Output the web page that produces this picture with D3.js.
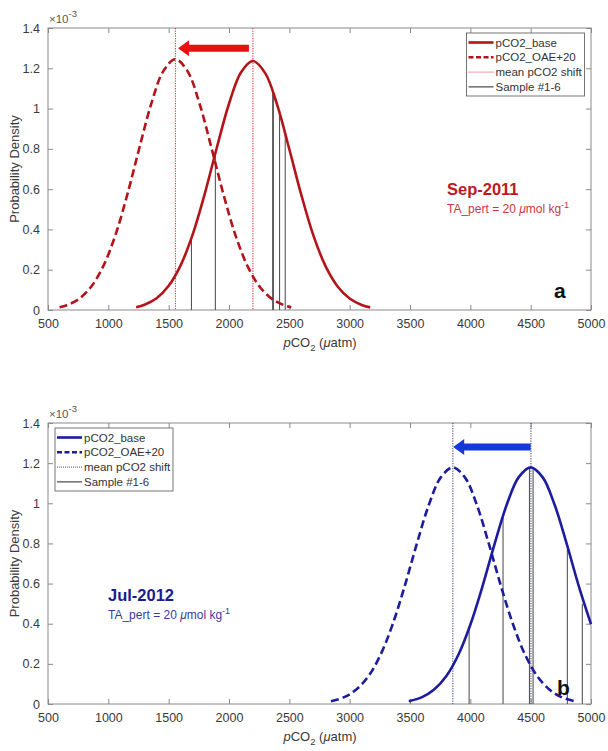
<!DOCTYPE html>
<html>
<head>
<meta charset="utf-8">
<script src="https://cdn.jsdelivr.net/npm/d3@7"></script>
<style>
  body { margin: 0; background: #fff; }
  svg { font-family: "Liberation Sans", Arial, sans-serif; }
</style>
</head>
<body>
<script>
// ---- data (density values in units of 1e-3) ----
var xTicks = [500, 1000, 1500, 2000, 2500, 3000, 3500, 4000, 4500, 5000];
var yTicks = [0, 0.2, 0.4, 0.6, 0.8, 1, 1.2, 1.4];

// panel a : Sep-2011
var sepBaseX = [1230, 1300, 1400, 1500, 1600, 1700, 1800, 1900, 2000, 2100, 2198, 2300, 2400, 2500, 2600, 2700, 2800, 2900, 3000, 3100, 3170];
var sepBaseY = [0.014, 0.026, 0.058, 0.120, 0.223, 0.377, 0.579, 0.808, 1.024, 1.180, 1.236, 1.176, 1.017, 0.798, 0.570, 0.369, 0.218, 0.117, 0.057, 0.025, 0.013];
var sepOaeX = [596, 656, 756, 856, 956, 1056, 1156, 1256, 1356, 1456, 1556, 1656, 1756, 1856, 1956, 2056, 2156, 2256, 2356, 2456, 2516];
var sepOaeY = [0.014, 0.024, 0.055, 0.114, 0.215, 0.367, 0.570, 0.802, 1.024, 1.186, 1.245, 1.186, 1.024, 0.802, 0.570, 0.367, 0.215, 0.114, 0.055, 0.024, 0.014];
var sepMeans = [1556, 2198];
var sepSampleX = [1689, 1887, 2362, 2368, 2419, 2466];
var sepSampleY = [0.35, 0.77, 1.08, 1.07, 0.98, 0.88];
var sepArrow = [2165, 1578, 1.30];   // tail x, tip x, level

// panel b : Jul-2012
var julBaseX = [3490, 3600, 3700, 3800, 3900, 4000, 4100, 4200, 4300, 4400, 4500, 4600, 4700, 4800, 4900, 5000];
var julBaseY = [0.014, 0.034, 0.072, 0.138, 0.244, 0.395, 0.585, 0.795, 0.990, 1.129, 1.179, 1.129, 0.990, 0.795, 0.585, 0.398];
var julOaeX = [2845, 2955, 3055, 3155, 3255, 3355, 3455, 3555, 3655, 3755, 3855, 3955, 4055, 4155, 4255, 4355, 4455, 4555, 4655, 4755, 4865];
var julOaeY = [0.014, 0.034, 0.072, 0.138, 0.244, 0.395, 0.585, 0.795, 0.990, 1.129, 1.179, 1.129, 0.990, 0.795, 0.585, 0.395, 0.244, 0.138, 0.072, 0.034, 0.014];
var julMeans = [3855, 4502];
var julSampleX = [3990, 4271, 4490, 4520, 4804, 4928];
var julSampleY = [0.37, 0.93, 1.18, 1.17, 0.77, 0.50];
var julArrow = [4500, 3858, 1.28];

var legendLabels = ["pCO2_base", "pCO2_OAE+20", "mean pCO2 shift", "Sample #1-6"];

var W = 608, H = 751;
var svg = d3.select("body").append("svg").attr("width", W).attr("height", H);
svg.append("rect").attr("width", W).attr("height", H).attr("fill", "#fff");

function zip(xs, ys){ return xs.map(function(x, i){ return [x, ys[i]]; }); }

function drawPanel(p){
  var x = d3.scaleLinear().domain([500, 5000]).range([48, 591]);
  var y = d3.scaleLinear().domain([0, 1.4]).range([p.bottom, p.top]);
  var g = svg.append("g");

  // ticks inside, all four sides (matlab box)
  var axCol = "#8a8a8a";
  g.append("g").attr("transform", "translate(0," + p.bottom + ")")
    .call(d3.axisBottom(x).tickValues(xTicks).tickSizeInner(-5).tickSizeOuter(0).tickPadding(9).tickFormat(d3.format("d")))
    .call(function(a){ a.select(".domain").remove(); a.selectAll("line").attr("stroke", axCol);
      a.selectAll("text").attr("fill", "#3a3a3a").attr("font-size", 12.5).attr("font-family", "Liberation Sans, Arial"); });
  g.append("g").attr("transform", "translate(0," + p.top + ")")
    .call(d3.axisTop(x).tickValues(xTicks).tickSizeInner(-5).tickSizeOuter(0).tickFormat(""))
    .call(function(a){ a.select(".domain").remove(); a.selectAll("line").attr("stroke", axCol); });
  g.append("g").attr("transform", "translate(48,0)")
    .call(d3.axisLeft(y).tickValues(yTicks).tickSizeInner(-5).tickSizeOuter(0).tickPadding(8).tickFormat(d3.format("~g")))
    .call(function(a){ a.select(".domain").remove(); a.selectAll("line").attr("stroke", axCol);
      a.selectAll("text").attr("fill", "#3a3a3a").attr("font-size", 12.5).attr("font-family", "Liberation Sans, Arial"); });
  g.append("g").attr("transform", "translate(591,0)")
    .call(d3.axisRight(y).tickValues(yTicks).tickSizeInner(-5).tickSizeOuter(0).tickFormat(""))
    .call(function(a){ a.select(".domain").remove(); a.selectAll("line").attr("stroke", axCol); });
  g.append("rect").attr("x", 48).attr("y", p.top).attr("width", 543).attr("height", p.bottom - p.top)
    .attr("fill", "none").attr("stroke", axCol).attr("stroke-width", 1);

  // exponent label
  var ex = g.append("text").attr("x", 49).attr("y", p.top - 5).attr("fill", "#555").attr("font-size", 11.5);
  ex.append("tspan").text("\u00d710");
  ex.append("tspan").attr("dy", -6).attr("font-size", 9.5).text("-3");

  // y label
  g.append("text").attr("transform", "translate(19," + ((p.top + p.bottom) / 2) + ") rotate(-90)")
    .attr("text-anchor", "middle").attr("fill", "#3a3a3a").attr("font-size", 13).text("Probability Density");

  // x label
  var xl = g.append("text").attr("x", 320).attr("y", p.bottom + 37).attr("text-anchor", "middle")
    .attr("fill", "#3a3a3a").attr("font-size", 13);
  xl.append("tspan").attr("font-style", "italic").text("p");
  xl.append("tspan").text("CO");
  xl.append("tspan").attr("dy", 4).attr("font-size", 9.5).text("2");
  xl.append("tspan").attr("dy", -4).text(" (");
  xl.append("tspan").attr("font-style", "italic").text("\u03bc");
  xl.append("tspan").text("atm)");

  // sample lines
  g.selectAll(".smp").data(zip(p.sampleX, p.sampleY)).enter().append("line")
    .attr("x1", function(d){ return x(d[0]); }).attr("x2", function(d){ return x(d[0]); })
    .attr("y1", y(0)).attr("y2", function(d){ return y(d[1]); })
    .attr("stroke", "#555").attr("stroke-width", 1.1);

  // mean lines
  g.selectAll(".mean").data(p.means).enter().append("line")
    .attr("x1", function(d){ return x(d); }).attr("x2", function(d){ return x(d); })
    .attr("y1", p.top).attr("y2", p.bottom)
    .attr("stroke", p.meanCol).attr("stroke-width", 1.1).attr("stroke-dasharray", "1.2,1.3");

  var line = d3.line().x(function(d){ return x(d[0]); }).y(function(d){ return y(d[1]); }).curve(d3.curveCatmullRom);
  g.append("path").datum(zip(p.oaeX, p.oaeY)).attr("d", line).attr("fill", "none")
    .attr("stroke", p.col).attr("stroke-width", 2.6).attr("stroke-dasharray", "8,4");
  g.append("path").datum(zip(p.baseX, p.baseY)).attr("d", line).attr("fill", "none")
    .attr("stroke", p.col).attr("stroke-width", 2.6);

  // shift arrow
  var xt = x(p.arrow[0]), xh = x(p.arrow[1]), ya = y(p.arrow[2]);
  g.append("path").attr("fill", p.arrowCol)
    .attr("d", "M" + xt + "," + (ya - 3.5) + "L" + (xh + 11) + "," + (ya - 3.5) + "L" + (xh + 11) + "," + (ya - 8) +
      "L" + xh + "," + ya + "L" + (xh + 11) + "," + (ya + 8) + "L" + (xh + 11) + "," + (ya + 3.5) + "L" + xt + "," + (ya + 3.5) + "Z");

  // legend
  var lg = g.append("g").attr("transform", "translate(" + p.legX + "," + p.legY + ")");
  lg.append("rect").attr("width", 118).attr("height", 63).attr("fill", "#fff").attr("stroke", "#666").attr("stroke-width", 0.9);
  var styles = [
    {w: 2.6, dash: null, c: p.col},
    {w: 2.6, dash: "5,2.5", c: p.col},
    {w: 1, dash: "1,1", c: p.meanCol},
    {w: 1, dash: null, c: "#222"}
  ];
  legendLabels.forEach(function(t, i){
    var yy = 9.5 + i * 14.8;
    lg.append("line").attr("x1", 2).attr("x2", 27).attr("y1", yy).attr("y2", yy)
      .attr("stroke", styles[i].c).attr("stroke-width", styles[i].w).attr("stroke-dasharray", styles[i].dash);
    lg.append("text").attr("x", 29).attr("y", yy + 4).attr("font-size", 11.5).attr("fill", "#333").text(t);
  });

  // annotation
  g.append("text").attr("x", p.noteX).attr("y", p.noteY).attr("font-size", 16.5).attr("font-weight", "bold")
    .attr("fill", p.noteCol).text(p.name);
  var ta = g.append("text").attr("x", p.noteX).attr("y", p.noteY + 18).attr("font-size", 12).attr("fill", p.subCol);
  ta.append("tspan").text("TA_pert = 20 ");
  ta.append("tspan").attr("font-style", "italic").text("\u03bc");
  ta.append("tspan").text("mol kg");
  ta.append("tspan").attr("dy", -5).attr("font-size", 9).text("-1");

  g.append("text").attr("x", p.tagX).attr("y", p.tagY).attr("font-size", 21).attr("font-weight", "bold")
    .attr("fill", "#111").text(p.tag);
}

drawPanel({
  top: 28, bottom: 310, col: "#b3141a", meanCol: "#e0373c", arrowCol: "#e81010",
  baseX: sepBaseX, baseY: sepBaseY, oaeX: sepOaeX, oaeY: sepOaeY, means: sepMeans,
  sampleX: sepSampleX, sampleY: sepSampleY, arrow: sepArrow,
  legX: 466.5, legY: 33, name: "Sep-2011", noteX: 447, noteY: 195, noteCol: "#c01820", subCol: "#c8383d",
  tag: "a", tagX: 554, tagY: 298
});
drawPanel({
  top: 423, bottom: 704, col: "#1c1c9e", meanCol: "#4a4f80", arrowCol: "#1538d8",
  baseX: julBaseX, baseY: julBaseY, oaeX: julOaeX, oaeY: julOaeY, means: julMeans,
  sampleX: julSampleX, sampleY: julSampleY, arrow: julArrow,
  legX: 55, legY: 428, name: "Jul-2012", noteX: 108, noteY: 601, noteCol: "#1c1c8c", subCol: "#3a3aa0",
  tag: "b", tagX: 557, tagY: 695
});
</script>
</body>
</html>
